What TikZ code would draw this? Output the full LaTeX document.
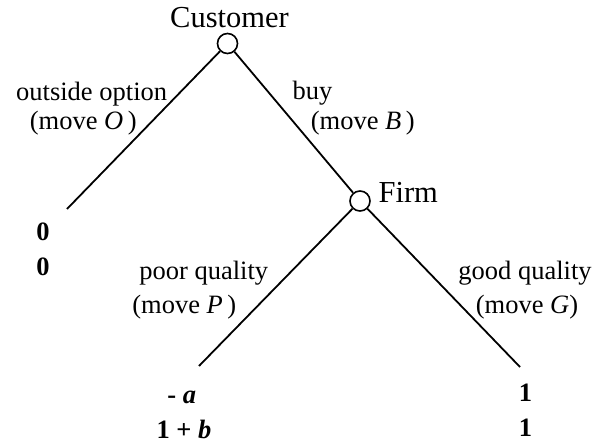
\documentclass[tikz,border=0pt]{standalone}
\usepackage{fontspec}
\setmainfont{Liberation Serif}
\begin{document}
\begin{tikzpicture}[x=1pt,y=-1pt,line width=1.8pt,
  dnode/.style={circle,draw,line width=1.6pt,minimum size=20pt,inner sep=0pt},
  lbl/.style={inner sep=0pt,font=\fontsize{26.5}{30}\selectfont},
  head/.style={inner sep=0pt,font=\fontsize{30.5}{36}\selectfont},
  pay/.style={inner sep=0pt,anchor=base,font=\fontsize{26.5}{30}\selectfont\bfseries},
  edge/.style={line width=1.8pt}]
\useasboundingbox (0,0) rectangle (593,446);
% decision nodes
\node[dnode] (cust) at (227.5,43.5) {};
\node[dnode] (firm) at (360,201) {};
% leaves
\coordinate (leafO) at (67,209);
\coordinate (leafP) at (199,366);
\coordinate (leafG) at (520,367);
% edges
\draw[edge] (cust) -- (leafO);
\draw[edge] (cust) -- (firm);
\draw[edge] (firm) -- (leafP);
\draw[edge] (firm) -- (leafG);
% player labels
\node[head,anchor=base] (tcust) at (229.5,27.3) {Customer};
\node[head,anchor=base west] (tfirm) at (377.7,202.7) {Firm};
% move labels
\node[lbl,anchor=base east] (o1) at (168,100.7) {outside option};
\node[lbl,anchor=base west] (o2) at (29,130) {(move \textit{O}\,)};
\node[lbl,anchor=base west] (b1) at (291.7,100) {buy};
\node[lbl,anchor=base west] (b2) at (310,130) {(move \textit{B}\,)};
\node[lbl,anchor=base east] (p1) at (269,279) {poor quality};
\node[lbl,anchor=base west] (p2) at (131.5,313) {(move \textit{P}\,)};
\node[lbl,anchor=base east] (g1) at (592.5,279) {good quality};
\node[lbl,anchor=base west] (g2) at (475,313) {(move \textit{G})};
% payoffs
\node[pay] (z1) at (43,240) {0};
\node[pay] (z2) at (43,275) {0};
\node[pay] (pa) at (181.7,403.3) {- \textit{a}};
\node[pay] (pb) at (184,438.3) {1 + \textit{b}};
\node[pay] (g1p) at (525.5,401.7) {1};
\node[pay] (g2p) at (525.5,436.7) {1};
\end{tikzpicture}
\end{document}
